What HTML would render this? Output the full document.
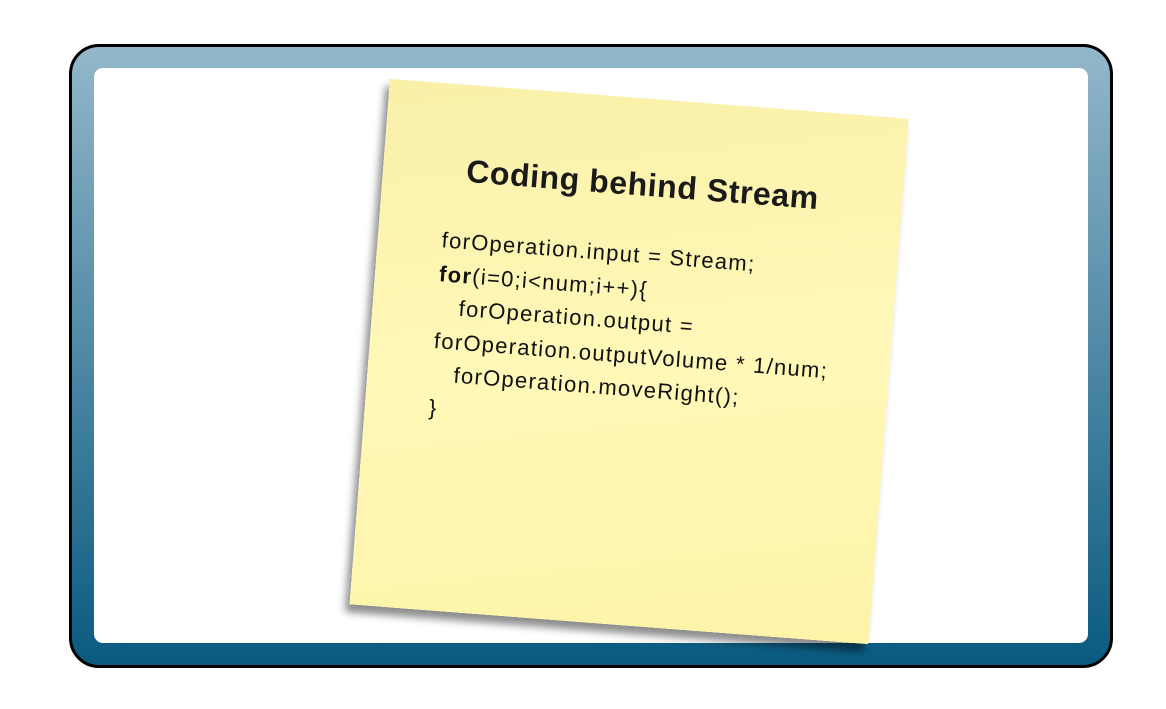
<!DOCTYPE html>
<html><head><style>
html,body{margin:0;padding:0;background:#fff;width:1166px;height:709px;overflow:hidden;position:relative;font-family:"Liberation Sans",sans-serif}
.outer{position:absolute;left:69px;top:44px;width:1038px;height:618px;border:3px solid #000;border-radius:30px;background:linear-gradient(#93b7ca,#0a5a80)}
.inner{position:absolute;left:94px;top:68px;width:994px;height:575px;background:#fff;border-radius:9px}
.note{position:absolute;left:369px;top:98px;width:520px;height:527px;transform:rotate(4.4deg);background:linear-gradient(170deg,#f9f0a8,#fff8b8 50%,#fdf4a8);box-shadow:-4px 8px 8px rgba(0,0,0,0.45)}
.title{position:absolute;left:0;width:520px;top:68px;text-align:center;font-weight:bold;font-size:32px;letter-spacing:0.6px;color:#1a1a1a}
.code{position:absolute;left:64px;top:140px;font-size:22px;letter-spacing:1.3px;line-height:33.5px;color:#111;white-space:pre}
</style></head><body>
<div class="outer"></div>
<div class="inner"></div>
<div class="note">
<div class="title">Coding behind Stream</div>
<div class="code">forOperation.input = Stream;
<b>for</b>(i=0;i&lt;num;i++){
   forOperation.output =
forOperation.outputVolume * 1/num;
   forOperation.moveRight();
}</div>
</div>
</body></html>
